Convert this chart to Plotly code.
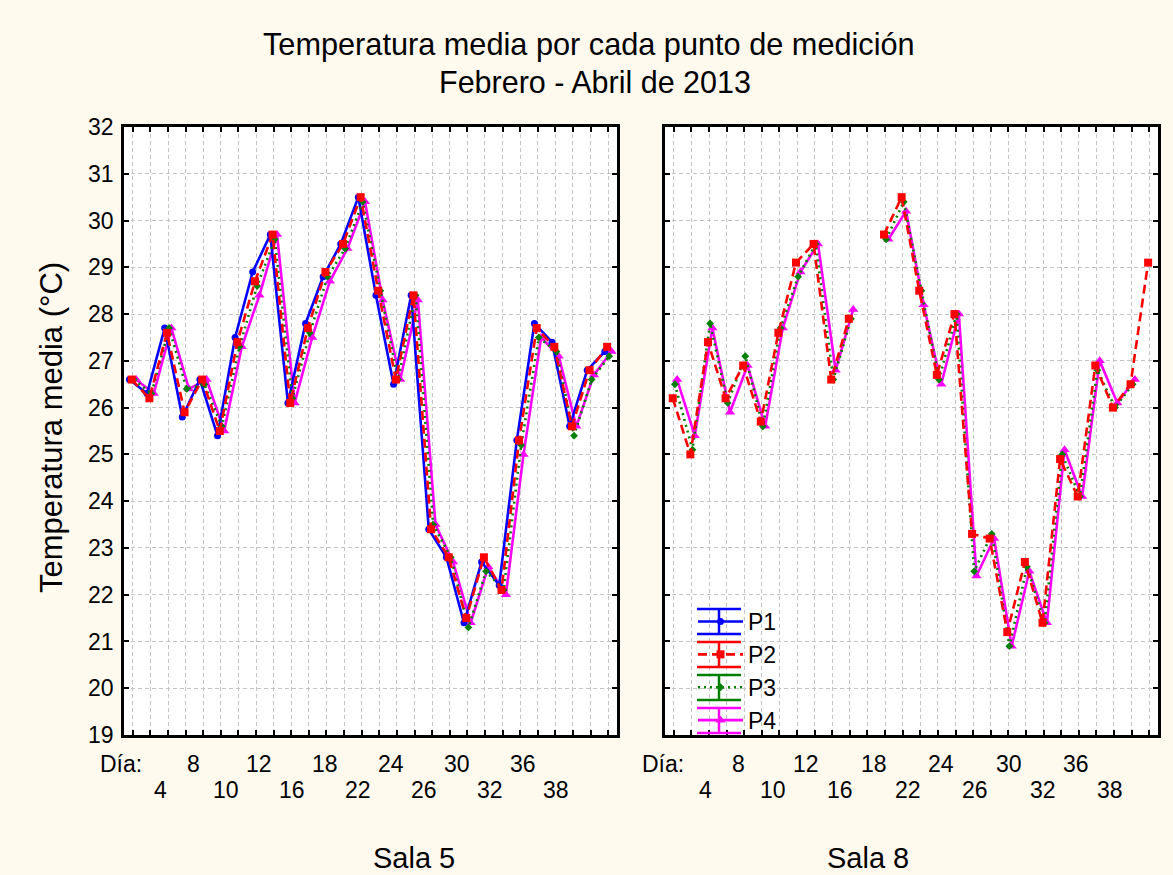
import plotly.graph_objects as go

# ---------------- data ----------------
# 28 measurement days (categorical positions 0..27)
measure_idx = list(range(28))
series_names = ["P1", "P2", "P3", "P4"]

# Sala 5
s5_p1 = [26.6, 26.3, 27.7, 25.8, 26.6, 25.4, 27.5, 28.9, 29.7, 26.1, 27.8, 28.8, 29.5, 30.5,
         28.4, 26.5, 28.4, 23.4, 22.8, 21.4, 22.7, 22.2, 25.3, 27.8, 27.4, 25.6, 26.8, 27.2]
s5_p2 = [26.6, 26.2, 27.6, 25.9, 26.6, 25.5, 27.4, 28.7, 29.7, 26.1, 27.7, 28.9, 29.5, 30.5,
         28.5, 26.6, 28.4, 23.4, 22.8, 21.5, 22.8, 22.1, 25.3, 27.7, 27.3, 25.6, 26.8, 27.3]
s5_p3 = [26.6, 26.3, 27.7, 26.4, 26.5, 25.6, 27.3, 28.6, 29.6, 26.2, 27.6, 28.8, 29.4, 30.4,
         28.5, 26.6, 28.4, 23.5, 22.8, 21.3, 22.5, 22.1, 25.2, 27.5, 27.2, 25.4, 26.6, 27.1]
s5_p4 = [26.6, 26.3, 27.7, 26.4, 26.6, 25.5, 27.3, 28.4, 29.7, 26.1, 27.5, 28.7, 29.4, 30.4,
         28.3, 26.6, 28.3, 23.5, 22.7, 21.4, 22.6, 22.0, 25.0, 27.5, 27.1, 25.6, 26.7, 27.2]

# Sala 8 (no P1 data; missing days as None)
s8_p1 = [None] * 28
s8_p2 = [26.2, 25.0, 27.4, 26.2, 26.9, 25.7, 27.6, 29.1, 29.5, 26.6, 27.9, None, 29.7, 30.5,
         28.5, 26.7, 28.0, 23.3, 23.2, 21.2, 22.7, 21.4, 24.9, 24.1, 26.9, 26.0, 26.5, 29.1]
s8_p3 = [26.5, 25.1, 27.8, 26.1, 27.1, 25.6, 27.7, 28.8, 29.5, 26.6, 27.9, None, 29.6, 30.4,
         28.5, 26.6, 28.0, 22.5, 23.3, 20.9, 22.6, 21.4, 25.0, 24.1, 26.8, 26.0, 26.5, None]
s8_p4 = [26.6, 25.4, 27.7, 25.9, 26.9, 25.6, 27.7, 28.9, 29.5, 26.8, 28.1, None, 29.6, 30.2,
         28.2, 26.5, 28.0, 22.4, 23.2, 20.9, 22.5, 21.4, 25.1, 24.1, 27.0, 26.1, 26.6, None]

axis_name_label = "Día:"
day_labels = ["4", "8", "10", "12", "16", "18", "22", "24", "26", "30", "32", "36", "38"]
y_ticks = list(range(19, 33))

# ---------------- styles ----------------
FONT = "Liberation Sans, Arial, sans-serif"
BG = "#FFF9EE"
styles = {
    "P1": dict(color="#0000FF", dash="solid", symbol="circle", size=7, off=-0.19),
    "P2": dict(color="#FF0000", dash="9px,5px", symbol="square", size=8, off=-0.06),
    "P3": dict(color="#008000", dash="2px,4px", symbol="diamond", size=6, off=0.06),
    "P4": dict(color="#FF00FF", dash="solid", symbol="triangle-up", size=9, off=0.19),
}
draw_order = ["P4", "P1", "P3", "P2"]
rank = {"P1": 1, "P2": 2, "P3": 3, "P4": 4}

panels = [
    ("x", "y", {"P1": s5_p1, "P2": s5_p2, "P3": s5_p3, "P4": s5_p4}, True),
    ("x2", "y2", {"P1": s8_p1, "P2": s8_p2, "P3": s8_p3, "P4": s8_p4}, False),
]

fig = go.Figure()
for xa, ya, data, show_leg in panels:
    for name in draw_order:
        st = styles[name]
        fig.add_trace(go.Scatter(
            x=[i + st["off"] for i in measure_idx],
            y=data[name],
            mode="lines+markers",
            name=name,
            legendrank=rank[name],
            showlegend=show_leg,
            line=dict(color=st["color"], width=2.6, dash=st["dash"]),
            marker=dict(color=st["color"], symbol=st["symbol"], size=st["size"], line=dict(width=0)),
            connectgaps=False,
            xaxis=xa, yaxis=ya,
        ))

W, H = 1173, 875
# panel pixel boxes
L5, R5 = 124, 617
L8, R8 = 665, 1158
T, B = 127, 735

axis_common = dict(
    showline=True, linecolor="black", linewidth=2.5, mirror="ticks",
    ticks="inside", ticklen=5, tickwidth=2, tickcolor="black",
    showgrid=True, gridcolor="#C4C4C4", gridwidth=1, griddash="4px,3px",
    zeroline=False, automargin=False,
)
xcommon = dict(axis_common, range=[-0.5, 27.5], tickmode="linear", tick0=0, dtick=1,
               showticklabels=False)
ycommon = dict(axis_common, range=[19, 32], tickmode="array", tickvals=y_ticks,
               tickfont=dict(family=FONT, size=23, color="black"))

LEG_TOP = 600
fig.update_layout(
    width=W, height=H,
    margin=dict(l=0, r=0, t=0, b=0, autoexpand=False),
    paper_bgcolor=BG, plot_bgcolor="white",
    font=dict(family=FONT, color="black"),
    xaxis=dict(xcommon, domain=[L5 / W, R5 / W], anchor="y"),
    xaxis2=dict(xcommon, domain=[L8 / W, R8 / W], anchor="y2"),
    yaxis=dict(ycommon, domain=[1 - B / H, 1 - T / H], anchor="x", showticklabels=True,
               ticklabelstandoff=3),
    yaxis2=dict(ycommon, domain=[1 - B / H, 1 - T / H], anchor="x2", showticklabels=False),
    legend=dict(x=693 / W, y=1 - LEG_TOP / H, xanchor="left", yanchor="top",
                bgcolor="rgba(0,0,0,0)", font=dict(family=FONT, size=23),
                itemwidth=45, tracegroupgap=0),
    showlegend=True,
)

annotations = []
# titles
annotations.append(dict(text="Temperatura media por cada punto de medición", x=589 / W, y=1 - 45 / H,
                        xref="paper", yref="paper", showarrow=False,
                        font=dict(family=FONT, size=30.7), xanchor="center", yanchor="middle"))
annotations.append(dict(text="Febrero - Abril de 2013", x=595 / W, y=1 - 82 / H,
                        xref="paper", yref="paper", showarrow=False,
                        font=dict(family=FONT, size=30.5), xanchor="center", yanchor="middle"))
# y-axis title
annotations.append(dict(text="Temperatura media (°C)", x=52 / W, y=1 - 428 / H,
                        xref="paper", yref="paper", showarrow=False, textangle=-90,
                        font=dict(family=FONT, size=31), xanchor="center", yanchor="middle"))
# panel names
annotations.append(dict(text="Sala 5", x=371 / W, y=1 - 858 / H, xref="paper", yref="paper",
                        showarrow=False, font=dict(family=FONT, size=29), yanchor="middle"))
annotations.append(dict(text="Sala 8", x=911 / W, y=1 - 858 / H, xref="paper", yref="paper",
                        showarrow=False, font=dict(family=FONT, size=29), yanchor="middle"))

# staggered category labels (positions in axis units), factor name at panel start
label_layout = [("x", -0.006, 1.556, 1.871), ("x2", -0.004, 1.783, 1.917)]
for xa, dia_dom, first_pos, step in label_layout:
    annotations.append(dict(text=axis_name_label, x=dia_dom, y=1 - 764 / H, xref=xa + " domain",
                            yref="paper", showarrow=False, font=dict(family=FONT, size=23),
                            xanchor="center", yanchor="middle"))
    for k, lab in enumerate(day_labels):
        pos = first_pos + step * k
        row_y = 790 if k % 2 == 0 else 764
        annotations.append(dict(text=lab, x=pos, y=1 - row_y / H, xref=xa, yref="paper",
                                showarrow=False, font=dict(family=FONT, size=23),
                                xanchor="center", yanchor="middle"))

fig.update_layout(annotations=annotations)

# error-bar style decoration of the legend glyphs (Statistica look)
shapes = []
gx0, gx1, gxc = 697, 741, 719
for k, name in enumerate(series_names):
    cy = LEG_TOP + 22 + 33 * k
    col = styles[name]["color"]
    for yy in (cy - 13, cy + 12):
        shapes.append(dict(type="line", xref="paper", yref="paper",
                           x0=gx0 / W, x1=gx1 / W, y0=1 - yy / H, y1=1 - yy / H,
                           line=dict(color=col, width=2.5)))
    shapes.append(dict(type="line", xref="paper", yref="paper",
                       x0=gxc / W, x1=gxc / W, y0=1 - (cy - 13) / H, y1=1 - (cy + 12) / H,
                       line=dict(color=col, width=2.5)))
fig.update_layout(shapes=shapes)

fig.write_html("out.html", config={"displayModeBar": False},
               post_script="document.body.style.margin='0px';")
